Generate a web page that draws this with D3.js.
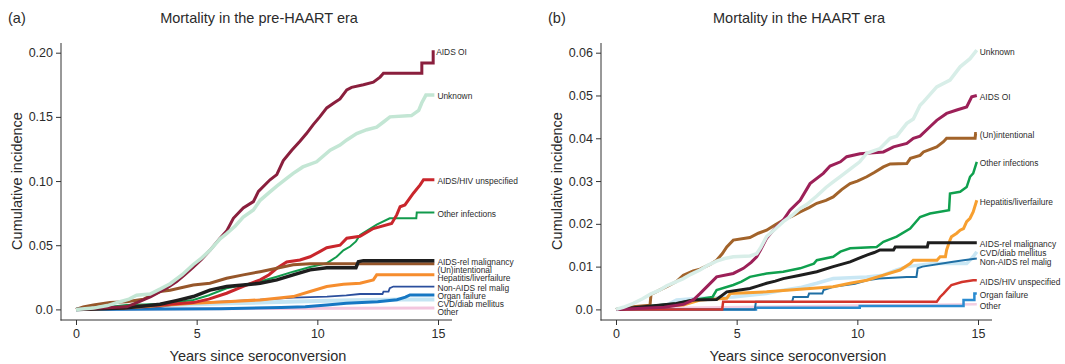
<!DOCTYPE html>
<html>
<head>
<meta charset="utf-8">
<script src="https://cdn.jsdelivr.net/npm/d3@7"></script>
<style>
  html, body { margin: 0; padding: 0; background: #fff; }
  svg { display: block; font-family: "Liberation Sans", Arial, sans-serif; }
</style>
</head>
<body>
<svg id="chart" width="1065" height="364"></svg>
<script>
// ---- Data: cumulative incidence by cause of death, vertices [years, incidence] ----
const causes = ["AIDS OI", "Unknown", "AIDS/HIV unspecified", "Other infections",
  "AIDS-rel malignancy", "(Un)intentional", "Hepatitis/liverfailure",
  "Non-AIDS rel malig", "Organ failure", "CVD/diab mellitus", "Other"];

const xTicks = [0, 5, 10, 15];
const yTicksPre = [0, 0.05, 0.10, 0.15, 0.20];
const yTickLabelsPre = ["0.0", "0.05", "0.10", "0.15", "0.20"];
const yTicksHaart = [0, 0.01, 0.02, 0.03, 0.04, 0.05, 0.06];
const yTickLabelsHaart = ["0.0", "0.01", "0.02", "0.03", "0.04", "0.05", "0.06"];

// Pre-HAART era
const preAidsOI = [[0,0],[0.5,0.0005],[1.0,0.001],[1.5,0.0015],[2.1,0.002],[2.5,0.005],[2.79,0.0074],[3.1,0.010],[3.48,0.0139],[3.8,0.017],[4.17,0.0217],[4.5,0.027],[4.86,0.033],[5.2,0.039],[5.55,0.046],[5.97,0.0555],[6.24,0.061],[6.52,0.071],[6.93,0.079],[7.35,0.084],[7.56,0.092],[8.04,0.101],[8.32,0.105],[8.59,0.116],[8.94,0.124],[9.28,0.131],[9.55,0.137],[9.83,0.144],[10.1,0.150],[10.39,0.157],[10.7,0.161],[10.94,0.164],[11.22,0.171],[11.42,0.173],[11.91,0.175],[12.32,0.177],[12.6,0.181],[12.74,0.184],[14.33,0.184],[14.33,0.192],[14.8,0.192],[14.8,0.202]];
const preUnknown = [[0,0],[0.72,0.001],[1.3,0.003],[1.82,0.006],[2.2,0.008],[2.51,0.011],[3.07,0.012],[3.5,0.016],[3.9,0.020],[4.4,0.027],[4.86,0.035],[5.2,0.040],[5.55,0.046],[5.97,0.055],[6.24,0.059],[6.6,0.065],[6.93,0.072],[7.35,0.0775],[7.63,0.085],[8.0,0.091],[8.32,0.096],[8.73,0.102],[9.0,0.106],[9.4,0.111],[9.97,0.115],[10.53,0.124],[10.94,0.128],[11.22,0.132],[11.63,0.137],[12.05,0.140],[12.46,0.142],[12.74,0.146],[13.01,0.150],[13.9,0.151],[14.2,0.155],[14.33,0.161],[14.5,0.167],[14.85,0.167]];
const preAidsHiv = [[0,0],[1.5,0.001],[3.48,0.0035],[4.86,0.0053],[5.5,0.008],[6.24,0.0126],[6.93,0.018],[7.63,0.023],[8.0,0.027],[8.32,0.032],[8.73,0.037],[9.28,0.0385],[9.7,0.041],[10.1,0.045],[10.39,0.048],[10.94,0.050],[11.22,0.0555],[11.77,0.057],[12.32,0.063],[13.08,0.067],[13.29,0.0736],[13.43,0.080],[13.63,0.0814],[13.98,0.0905],[14.26,0.097],[14.4,0.101],[14.85,0.101]];
const preOtherInf = [[0,0],[1.0,0.001],[2.1,0.0035],[3.48,0.0043],[4.86,0.0074],[5.5,0.011],[6.24,0.0165],[6.93,0.019],[7.63,0.0217],[8.32,0.0255],[9.0,0.0294],[9.7,0.033],[10.39,0.036],[10.8,0.041],[11.08,0.046],[11.36,0.049],[11.6,0.053],[11.77,0.058],[12.46,0.066],[13.0,0.071],[14.1,0.071],[14.12,0.0754],[14.85,0.0754]];
const preAidsMalig = [[0,0],[2.0,0.001],[3.48,0.004],[4.2,0.007],[4.86,0.010],[5.55,0.015],[6.24,0.0178],[6.93,0.019],[7.63,0.0204],[8.32,0.023],[9.0,0.0269],[9.7,0.0308],[10.39,0.0325],[11.6,0.0325],[11.7,0.0372],[11.91,0.038],[14.85,0.038]];
const preUnintentional = [[0,0],[0.3,0.002],[0.72,0.0035],[1.41,0.0053],[2.1,0.006],[2.79,0.0079],[3.1,0.011],[3.48,0.0139],[3.9,0.015],[4.4,0.017],[4.86,0.019],[5.55,0.0204],[6.24,0.0243],[6.93,0.0269],[7.63,0.0294],[8.32,0.032],[9.0,0.0347],[9.7,0.0355],[14.85,0.0355]];
const preHepatitis = [[0,0],[2.0,0.001],[3.5,0.003],[4.86,0.0048],[6.24,0.006],[7.63,0.0074],[9.0,0.010],[9.7,0.0139],[10.39,0.0178],[11.08,0.0196],[11.77,0.0204],[12.32,0.023],[12.46,0.0269],[14.85,0.0269]];
const preNonAidsMalig = [[0,0],[2.0,0.0005],[3.5,0.002],[4.5,0.005],[6.0,0.006],[7.5,0.0074],[9.0,0.0092],[10.4,0.010],[11.2,0.011],[11.77,0.012],[12.7,0.012],[12.74,0.0139],[12.95,0.0139],[13.0,0.0165],[13.15,0.0178],[14.85,0.0178]];
const preOrganFailure = [[0,0],[6.0,0.0005],[8.5,0.0015],[9.5,0.002],[10.4,0.0035],[11.2,0.0048],[12.5,0.006],[13.3,0.0075],[13.65,0.0095],[13.84,0.0113],[14.85,0.0113]];
const preCvd = [[0,0],[1.0,0.0015],[2.5,0.0025],[4.0,0.0035],[6.0,0.0045],[8.0,0.0055],[10.0,0.0065],[11.5,0.0072],[13.5,0.0078],[14.85,0.0078]];
const preOther = [[0,0],[3.0,0.0003],[8.0,0.0007],[14.85,0.001]];

// HAART era
const haartAidsOI = [[0,0],[2.0,0.0005],[2.8,0.0012],[3.2,0.0022],[3.48,0.0037],[3.8,0.0055],[4.17,0.0076],[4.86,0.0084],[5.28,0.0096],[5.6,0.011],[5.83,0.0123],[6.0,0.014],[6.24,0.0166],[6.6,0.019],[6.93,0.0209],[7.21,0.0232],[7.63,0.0255],[8.04,0.0294],[8.59,0.0318],[8.87,0.0335],[9.3,0.0345],[9.56,0.0357],[10.11,0.0364],[11.08,0.0368],[11.5,0.038],[12.05,0.0388],[12.32,0.040],[12.6,0.0405],[13.01,0.0427],[13.29,0.0442],[13.7,0.0458],[14.12,0.0466],[14.53,0.0473],[14.74,0.0497],[14.95,0.050]];
const haartUnknown = [[0,0],[0.3,0.0005],[0.72,0.0014],[1.1,0.0025],[1.41,0.0035],[1.8,0.0045],[2.1,0.0055],[2.79,0.0072],[3.1,0.0082],[3.48,0.0092],[3.8,0.0103],[4.17,0.0113],[4.5,0.0119],[4.86,0.0123],[5.55,0.0125],[5.83,0.013],[6.0,0.0145],[6.24,0.017],[6.6,0.0188],[6.93,0.0205],[7.3,0.022],[7.63,0.0236],[7.9,0.0245],[8.32,0.0265],[8.7,0.0285],[9.0,0.0298],[9.28,0.031],[9.7,0.0328],[10.1,0.0345],[10.39,0.0365],[10.94,0.0376],[11.36,0.040],[11.63,0.0405],[12.05,0.0435],[12.32,0.0445],[12.6,0.0477],[12.74,0.0485],[13.29,0.052],[13.84,0.0536],[14.26,0.0567],[14.67,0.0586],[14.95,0.0606]];
const haartAidsHiv = [[0,0],[4.4,0],[4.44,0.0018],[13.29,0.0018],[13.43,0.0029],[13.57,0.0037],[13.7,0.0045],[13.9,0.0057],[14.33,0.0064],[14.8,0.0068],[14.95,0.0068]];
const haartOtherInf = [[0,0],[2.5,0.0014],[3.2,0.0022],[4.0,0.0029],[4.17,0.0045],[4.86,0.0057],[5.2,0.0065],[5.55,0.0076],[6.24,0.0084],[6.93,0.0088],[7.63,0.0096],[8.2,0.0107],[8.32,0.0115],[9.0,0.0123],[9.3,0.0135],[9.7,0.0143],[10.8,0.0146],[11.08,0.0158],[11.63,0.017],[12.19,0.0189],[12.6,0.0216],[13.01,0.0224],[13.8,0.0232],[13.84,0.0271],[14.26,0.0275],[14.53,0.0286],[14.67,0.031],[14.8,0.0318],[14.95,0.0345]];
const haartAidsMalig = [[0,0],[2.5,0.0014],[3.2,0.0022],[4.17,0.0023],[4.59,0.0041],[5.55,0.0049],[5.9,0.0055],[6.24,0.0061],[6.6,0.0066],[6.93,0.0072],[7.63,0.008],[8.32,0.0088],[9.0,0.010],[9.7,0.0111],[10.0,0.0118],[10.39,0.0127],[10.7,0.0133],[10.94,0.0139],[11.5,0.0139],[11.57,0.0146],[12.9,0.0146],[12.94,0.0156],[14.95,0.0156]];
const haartUnintentional = [[0,0],[0.7,0.0006],[1.41,0.001],[1.45,0.0035],[1.8,0.0045],[2.1,0.0053],[2.5,0.0065],[2.79,0.008],[3.2,0.009],[3.48,0.0094],[3.9,0.0105],[4.17,0.0115],[4.4,0.013],[4.59,0.0146],[4.86,0.0162],[5.55,0.0168],[5.9,0.0178],[6.24,0.0185],[6.6,0.0198],[6.93,0.0209],[7.3,0.0218],[7.63,0.0228],[8.0,0.0238],[8.32,0.0248],[8.7,0.0255],[9.0,0.0263],[9.35,0.028],[9.7,0.0294],[10.0,0.030],[10.39,0.031],[10.7,0.032],[11.08,0.0333],[11.36,0.034],[12.05,0.0341],[12.2,0.0353],[12.6,0.036],[12.74,0.0368],[13.29,0.038],[13.57,0.0392],[13.7,0.040],[14.88,0.040],[14.9,0.0411],[14.95,0.0411]];
const haartHepatitis = [[0,0],[2.79,0.001],[3.48,0.0022],[4.59,0.0026],[4.73,0.0037],[6.24,0.0041],[7.63,0.0047],[9.0,0.0053],[9.7,0.0061],[10.39,0.0068],[11.08,0.008],[11.77,0.0092],[12.19,0.0107],[12.32,0.0115],[13.3,0.0115],[13.43,0.0123],[13.65,0.0123],[13.7,0.0139],[13.84,0.0162],[13.9,0.017],[14.12,0.0178],[14.26,0.0185],[14.4,0.0189],[14.53,0.0205],[14.67,0.0213],[14.8,0.0228],[14.95,0.0255]];
const haartNonAidsMalig = [[0,0],[5.75,0],[5.8,0.0018],[7.3,0.0018],[7.35,0.0029],[7.95,0.0029],[8.0,0.0037],[8.55,0.0037],[8.6,0.0045],[9.0,0.0053],[9.9,0.006],[10.4,0.0068],[10.9,0.0072],[12.05,0.0076],[12.45,0.0076],[12.5,0.0096],[12.7,0.010],[13.9,0.0111],[14.4,0.0115],[14.95,0.0119]];
const haartOrganFailure = [[0,0],[5.8,0],[5.8,0.0004],[10.1,0.0004],[10.1,0.0008],[14.4,0.0008],[14.4,0.0022],[14.85,0.0022],[14.85,0.0037],[14.95,0.0037]];
const haartCvd = [[0,0],[1.0,0.0005],[2.1,0.001],[2.51,0.0022],[3.48,0.0026],[4.86,0.0029],[6.24,0.0037],[6.93,0.0045],[7.63,0.0051],[8.32,0.0061],[9.0,0.0072],[10.39,0.0076],[11.08,0.008],[11.6,0.0092],[12.05,0.010],[13.15,0.0107],[14.53,0.0107],[14.8,0.0123],[14.95,0.0135]];
const haartOther = [[0,0],[2.0,0.0003],[6.0,0.0006],[10.0,0.0009],[14.95,0.0012]];

const preSeries = [preAidsOI, preUnknown, preAidsHiv, preOtherInf, preAidsMalig, preUnintentional,
  preHepatitis, preNonAidsMalig, preOrganFailure, preCvd, preOther];
const haartSeries = [haartAidsOI, haartUnknown, haartAidsHiv, haartOtherInf, haartAidsMalig, haartUnintentional,
  haartHepatitis, haartNonAidsMalig, haartOrganFailure, haartCvd, haartOther];

// ---- Styles per cause (per panel where the tint differs) ----
const preColors = ["#8a1f3d", "#c3e6d4", "#c9262c", "#129a4c", "#1e1e1e", "#96562a",
  "#f68d2e", "#2b4f9d", "#1677c3", "#c4e5f3", "#f3c6de"];
const haartColors = ["#9c2058", "#d8eee8", "#d2352c", "#0fa04e", "#1e1e1e", "#a2632a",
  "#f79f30", "#1f6fa4", "#2a8bd0", "#c9e7f4", "#f3cfe2"];
const preWidths = [3, 3.5, 3, 2, 3.5, 3, 3, 1.8, 3, 4, 3];
const haartWidths = [3, 3.5, 2.5, 2.5, 3, 3, 3, 2, 2.5, 3.5, 2.5];
// drawing order (back to front), as indices into causes
const drawOrder = [10, 9, 8, 7, 6, 3, 2, 5, 4, 0, 1];

const svg = d3.select("#chart");
const textColor = "#2b2b2b";
const axisColor = "#333";

function panel(opts) {
  const g = svg.append("g");
  const x = d3.scaleLinear().domain([0, 15]).range([opts.x0, opts.x0 + 362]);
  const y = d3.scaleLinear().domain([0, opts.yMax]).range([309.4, 52.7]);

  // axis lines (extend a little past the first/last tick)
  g.append("line").attr("x1", opts.x0 - 15).attr("x2", opts.x0 - 15)
    .attr("y1", 43).attr("y2", 320.5).attr("stroke", axisColor).attr("stroke-width", 1);
  g.append("line").attr("x1", opts.x0 - 15.5).attr("x2", opts.x0 + 376)
    .attr("y1", 320).attr("y2", 320).attr("stroke", axisColor).attr("stroke-width", 1);

  // y ticks
  const yAxis = d3.axisLeft(y).tickValues(opts.yTicks)
    .tickFormat((d, i) => opts.yLabels[i]).tickSize(5).tickPadding(3);
  const ya = g.append("g").attr("transform", `translate(${opts.x0 - 15},0)`).call(yAxis);
  ya.select(".domain").remove();
  ya.selectAll("line").attr("stroke", axisColor);
  ya.selectAll("text").attr("fill", textColor).style("font-size", "12.5px")
    .style("font-family", "Liberation Sans, Arial, sans-serif");

  // x ticks
  const xAxis = d3.axisBottom(x).tickValues(xTicks).tickFormat(d3.format("d"))
    .tickSize(5).tickPadding(4);
  const xa = g.append("g").attr("transform", "translate(0,320)").call(xAxis);
  xa.select(".domain").remove();
  xa.selectAll("line").attr("stroke", axisColor);
  xa.selectAll("text").attr("fill", textColor).style("font-size", "12.5px")
    .style("font-family", "Liberation Sans, Arial, sans-serif");

  // titles and axis labels
  g.append("text").attr("x", opts.x0 - 68).attr("y", 23).attr("fill", textColor)
    .style("font-size", "14.5px").text(opts.tag);
  g.append("text").attr("x", opts.x0 + 183).attr("y", 23).attr("text-anchor", "middle")
    .attr("fill", textColor).style("font-size", "14.5px").text(opts.title);
  g.append("text").attr("transform", `translate(${opts.x0 - 54},181) rotate(-90)`)
    .attr("text-anchor", "middle").attr("fill", textColor).style("font-size", "14.5px")
    .text("Cumulative incidence");
  g.append("text").attr("x", opts.x0 + 182).attr("y", 361).attr("text-anchor", "middle")
    .attr("fill", textColor).style("font-size", "14.5px").text("Years since seroconversion");

  // cumulative incidence curves
  const line = d3.line().x(d => x(d[0])).y(d => y(d[1]));
  drawOrder.forEach(i => {
    g.append("path").datum(opts.series[i]).attr("d", line)
      .attr("fill", "none").attr("stroke", opts.colors[i])
      .attr("stroke-width", opts.widths[i]).attr("stroke-linejoin", "miter");
  });

  // end labels, pushed apart so they do not overlap
  const labels = causes.map((name, i) => {
    const s = opts.series[i];
    const last = s[s.length - 1];
    return { name, x: x(last[0]) + 3, y: y(last[1]) + 1.5 };
  }).sort((a, b) => a.y - b.y);
  for (let k = 1; k < labels.length; k++) {
    labels[k].y = Math.max(labels[k].y, labels[k - 1].y + opts.gap);
  }
  g.selectAll("text.lab").data(labels).enter().append("text")
    .attr("class", "lab").attr("x", d => d.x).attr("y", d => d.y)
    .attr("dy", "0.35em").attr("fill", textColor).style("font-size", "8.4px")
    .text(d => d.name);
}

panel({ x0: 76, yMax: 0.20, yTicks: yTicksPre, yLabels: yTickLabelsPre,
  series: preSeries, colors: preColors, widths: preWidths, gap: 8,
  tag: "(a)", title: "Mortality in the pre-HAART era" });
panel({ x0: 616, yMax: 0.06, yTicks: yTicksHaart, yLabels: yTickLabelsHaart,
  series: haartSeries, colors: haartColors, widths: haartWidths, gap: 8.5,
  tag: "(b)", title: "Mortality in the HAART era" });
</script>
</body>
</html>
